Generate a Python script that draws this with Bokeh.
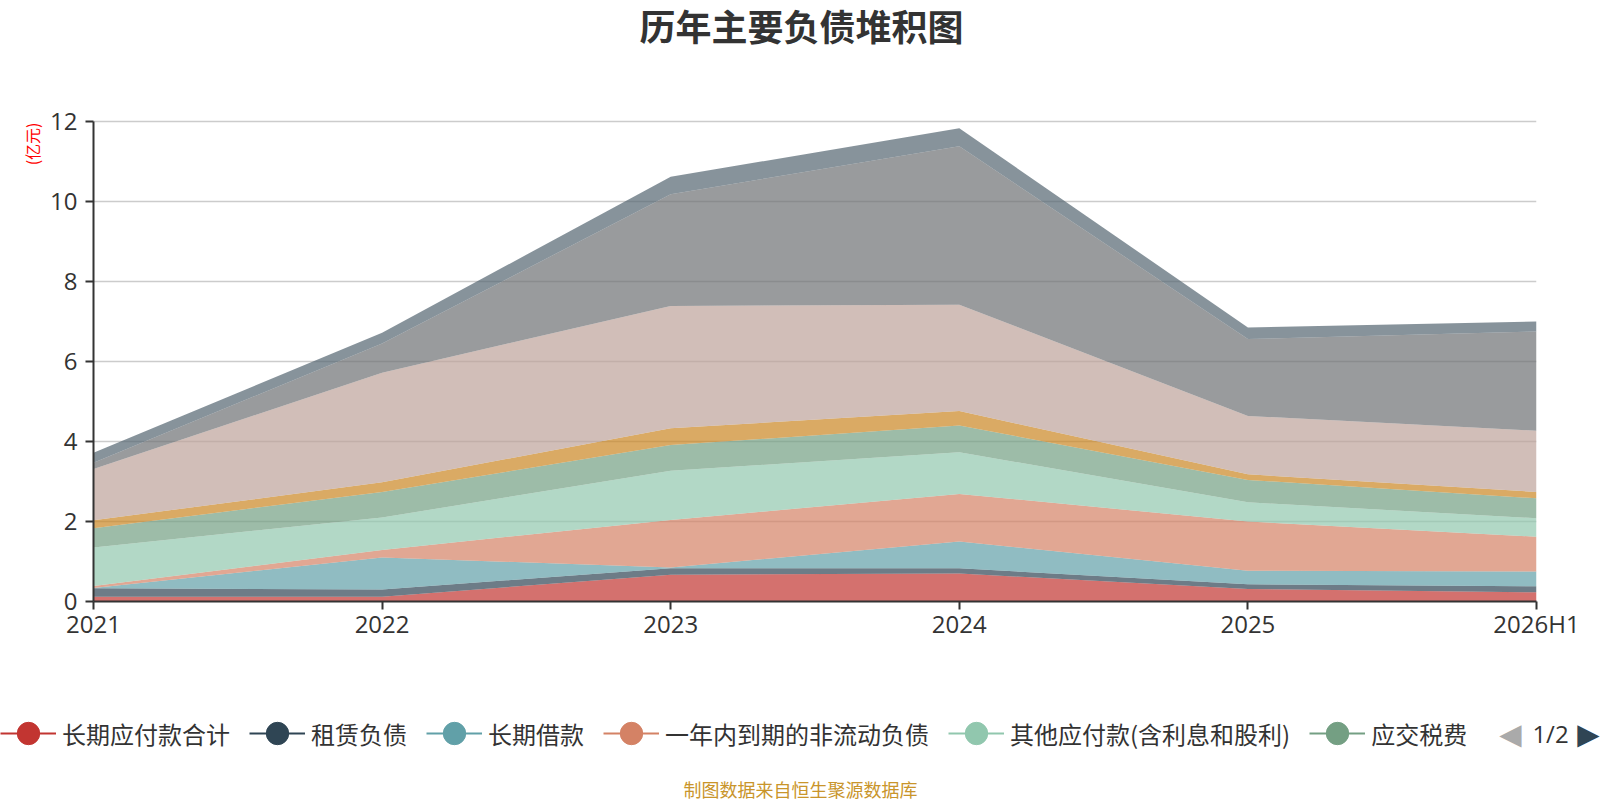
from math import nan

from bokeh.embed import file_html
from bokeh.layouts import column
from bokeh.models import (ColumnDataSource, FixedTicker, Label, Legend,
                          LegendItem, Range1d, Title)
from bokeh.plotting import figure
from bokeh.resources import INLINE

CJK = "Noto Sans CJK SC"
LATIN = "Open Sans"

# category axis
periods = ["2021", "2022", "2023", "2024", "2025", "2026H1"]
y_ticks = [0, 2, 4, 6, 8, 10, 12]

# series shown on legend page 1 (亿元)
long_payables = [0.12, 0.12, 0.67, 0.70, 0.31, 0.23]      # 长期应付款合计
lease_liab = [0.21, 0.18, 0.16, 0.13, 0.12, 0.15]         # 租赁负债
long_loans = [0.01, 0.80, 0.02, 0.67, 0.34, 0.37]         # 长期借款
current_noncur = [0.05, 0.19, 1.19, 1.19, 1.23, 0.87]     # 一年内到期的非流动负债
other_payables = [0.96, 0.81, 1.23, 1.04, 0.48, 0.46]     # 其他应付款(含利息和股利)
taxes_payable = [0.48, 0.64, 0.64, 0.67, 0.56, 0.50]      # 应交税费

# series on legend page 2 (names not visible in the picture)
page2_a = [0.20, 0.24, 0.42, 0.36, 0.14, 0.16]
page2_b = [1.28, 2.74, 3.06, 2.66, 1.46, 1.53]
page2_c = [0.16, 0.73, 2.79, 3.96, 1.92, 2.48]
page2_d = [0.25, 0.27, 0.44, 0.45, 0.29, 0.25]

legend_names = ["长期应付款合计", "租赁负债", "长期借款", "一年内到期的非流动负债",
                "其他应付款(含利息和股利)", "应交税费"]
stack_keys = ["s1", "s2", "s3", "s4", "s5", "s6", "s7", "s8", "s9", "s10"]
colors = ["#c23531", "#2f4554", "#61a0a8", "#d48265", "#91c7ae", "#749f83",
          "#ca8622", "#bda29a", "#6e7074", "#546570"]

xs = list(range(len(periods)))
source = ColumnDataSource(dict(
    x=xs, s1=long_payables, s2=lease_liab, s3=long_loans, s4=current_noncur,
    s5=other_payables, s6=taxes_payable, s7=page2_a, s8=page2_b, s9=page2_c,
    s10=page2_d))

# ---- chart: frame from page x 93..1536, y 0..601 (value 0 at 601, 40px per unit)
FRAME_L, FRAME_R, FRAME_B = 93, 1536, 601
PX_PER_UNIT = 40
p = figure(width=1600, height=651, output_backend="svg", toolbar_location=None,
           x_range=Range1d(0, len(periods) - 1),
           y_range=Range1d(0, FRAME_B / PX_PER_UNIT),
           min_border_left=FRAME_L, min_border_right=1600 - FRAME_R,
           min_border_top=0, min_border_bottom=50)
p.outline_line_color = None
p.frame_align = False


def dx(px):
    return (px - FRAME_L) / ((FRAME_R - FRAME_L) / (len(periods) - 1))


def dy(py):
    return (FRAME_B - py) / PX_PER_UNIT


p.varea_stack(stackers=stack_keys, x="x", color=colors, fill_alpha=0.7,
              source=source)

for ax in (p.xaxis[0], p.yaxis[0]):
    ax.axis_line_color = "#333333"
    ax.axis_line_width = 2
    ax.major_tick_line_color = "#333333"
    ax.major_tick_line_width = 2
    ax.major_tick_in = 0
    ax.major_tick_out = 8
    ax.minor_tick_line_color = None
    ax.major_label_text_font = LATIN
    ax.major_label_text_font_size = "24px"
    ax.major_label_text_color = "#333333"

p.xaxis.ticker = FixedTicker(ticks=xs)
p.xaxis.major_label_overrides = {i: s for i, s in enumerate(periods)}
p.xaxis.major_label_standoff = -3
p.yaxis.ticker = FixedTicker(ticks=y_ticks)
p.yaxis.bounds = (0, 12)
p.yaxis.major_label_standoff = 8

p.xgrid.grid_line_color = None
p.ygrid.grid_line_color = "#cccccc"
p.ygrid.grid_line_width = 1.5

# unit, rotated at the top of the value axis
p.add_layout(Title(text="(亿元)", align="right", offset=122,
                   vertical_align="middle", text_font=CJK,
                   text_font_size="16px", text_font_style="normal",
                   text_color="#ff0000", standoff=6), "left")

# chart title
p.add_layout(Label(x=dx(801), y=dy(24), text="历年主要负债堆积图", text_font=CJK,
                   text_font_size="36px", text_font_style="bold",
                   text_color="#333333", text_align="center",
                   text_baseline="middle"))

# ---- legend strip (page y 651..800), data units = page pixels
q = figure(width=1600, height=149, output_backend="svg", toolbar_location=None,
           x_range=Range1d(0, 1600), y_range=Range1d(800, 651),
           x_axis_location=None, y_axis_location=None,
           min_border=0, min_border_left=0, min_border_right=0,
           min_border_top=0, min_border_bottom=0)
q.outline_line_color = None
q.grid.grid_line_color = None
q.frame_align = False

items = []
for name, c in zip(legend_names, colors):
    ln = q.line(x=[nan], y=[nan], line_color=c, line_width=2)
    dot = q.scatter(x=[nan], y=[nan], fill_color=c, line_color=c, size=20)
    items.append(LegendItem(label=name, renderers=[ln, dot]))

legend = Legend(items=items, orientation="horizontal", location=(0, 39),
                glyph_width=56, glyph_height=56, label_standoff=6, spacing=19,
                padding=0, margin=0, border_line_color=None,
                background_fill_alpha=0, label_text_font=CJK,
                label_text_font_size="24px", label_text_color="#333333")
q.add_layout(legend)

# legend pager
q.add_layout(Label(x=1510, y=733, text="◀", text_font="DejaVu Sans",
                   text_font_size="29px", text_color="#aaaaaa",
                   text_align="center", text_baseline="middle"))
q.add_layout(Label(x=1550, y=733, text="1/2", text_font=LATIN,
                   text_font_size="24px", text_color="#333333",
                   text_align="center", text_baseline="middle"))
q.add_layout(Label(x=1588, y=733, text="▶", text_font="DejaVu Sans",
                   text_font_size="29px", text_color="#2f4554",
                   text_align="center", text_baseline="middle"))

# source note
q.add_layout(Label(x=800, y=788, text="制图数据来自恒生聚源数据库", text_font=CJK,
                   text_font_size="18px", text_color="#c9952b",
                   text_align="center", text_baseline="middle"))

layout = column(p, q, spacing=0)
open("out.html", "w").write(file_html(layout, INLINE))
